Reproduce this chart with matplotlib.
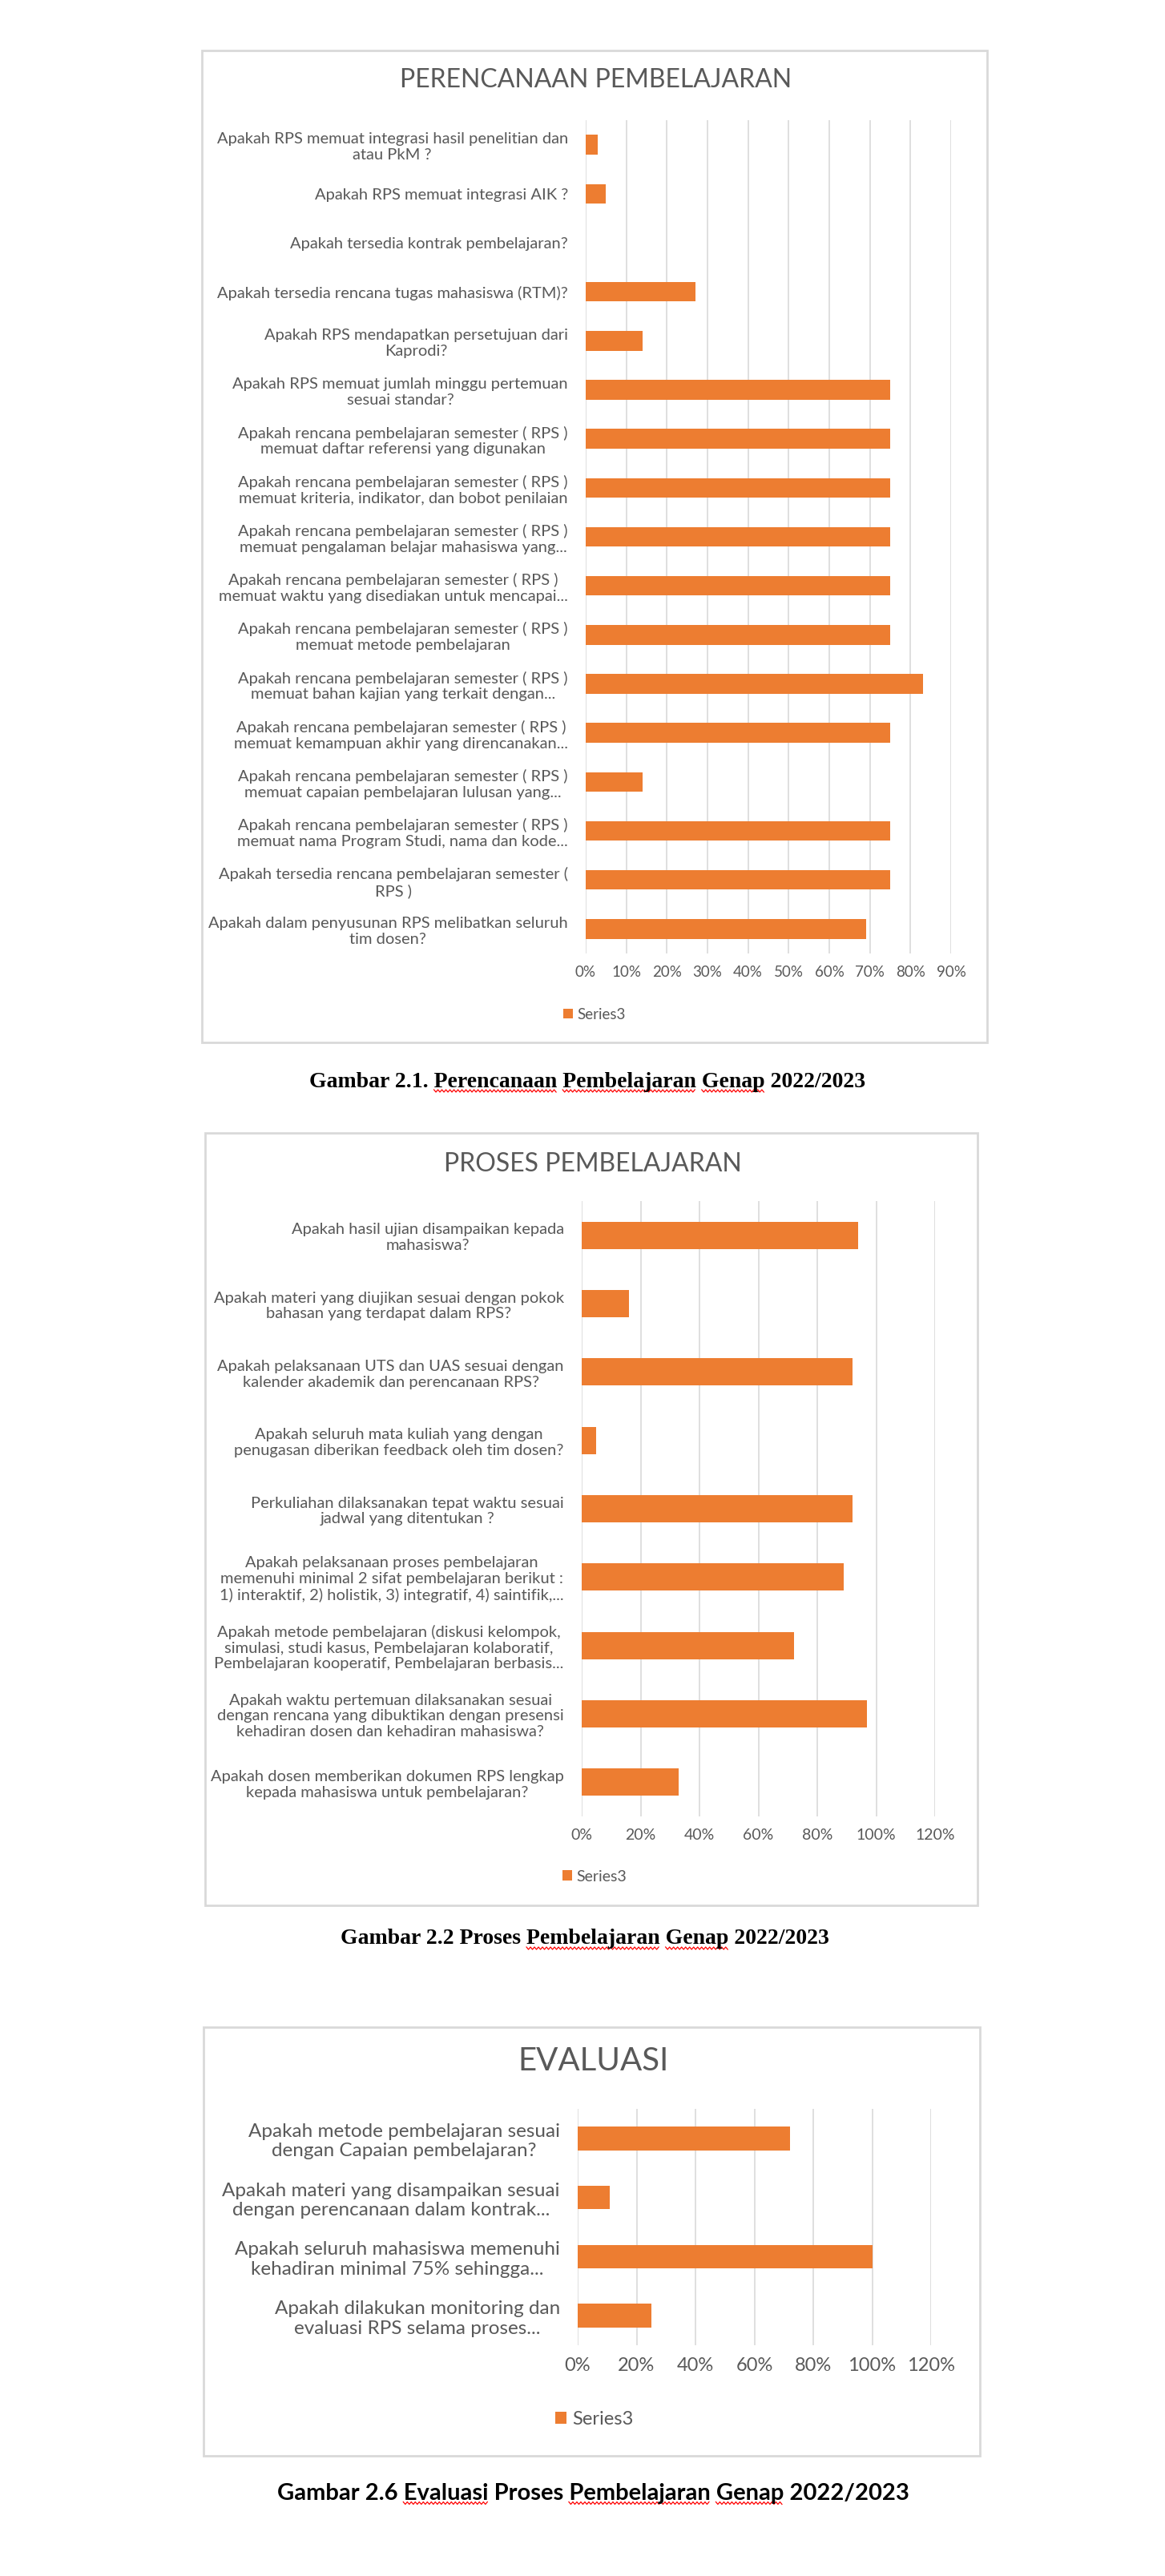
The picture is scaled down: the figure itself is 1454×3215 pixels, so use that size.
import numpy as np
import matplotlib
matplotlib.use('Agg')
import matplotlib.pyplot as plt
from matplotlib.patches import Rectangle
from matplotlib.lines import Line2D

W, H = 1454, 3215

# ---- data ----
label_rps = 'Apakah rencana pembelajaran semester ( RPS )\n'
perencanaan_labels = [
    'Apakah RPS memuat integrasi hasil penelitian dan\natau PkM ?',
    'Apakah RPS memuat integrasi AIK ?',
    'Apakah tersedia kontrak pembelajaran?',
    'Apakah tersedia rencana tugas mahasiswa (RTM)?',
    'Apakah RPS mendapatkan persetujuan dari\nKaprodi?',
    'Apakah RPS memuat jumlah minggu pertemuan\nsesuai standar?',
    label_rps + 'memuat daftar referensi yang digunakan',
    label_rps + 'memuat kriteria, indikator, dan bobot penilaian',
    label_rps + 'memuat pengalaman belajar mahasiswa yang...',
    label_rps + 'memuat waktu yang disediakan untuk mencapai...',
    label_rps + 'memuat metode pembelajaran',
    label_rps + 'memuat bahan kajian yang terkait dengan...',
    label_rps + 'memuat kemampuan akhir yang direncanakan...',
    label_rps + 'memuat capaian pembelajaran lulusan yang...',
    label_rps + 'memuat nama Program Studi, nama dan kode...',
    'Apakah tersedia rencana pembelajaran semester (\nRPS )',
    'Apakah dalam penyusunan RPS melibatkan seluruh\ntim dosen?',
]
perencanaan_values = [3, 5, 0, 27, 14, 75, 75, 75, 75, 75, 75, 83, 75, 14, 75, 75, 69]

proses_labels = [
    'Apakah hasil ujian disampaikan kepada\nmahasiswa?',
    'Apakah materi yang diujikan sesuai dengan pokok\nbahasan yang terdapat dalam RPS?',
    'Apakah pelaksanaan UTS dan UAS sesuai dengan\nkalender akademik dan perencanaan RPS?',
    'Apakah seluruh mata kuliah yang dengan\npenugasan diberikan feedback oleh tim dosen?',
    'Perkuliahan dilaksanakan tepat waktu sesuai\njadwal yang ditentukan ?',
    'Apakah pelaksanaan proses pembelajaran\nmemenuhi minimal 2 sifat pembelajaran berikut :\n'
    '1) interaktif, 2) holistik, 3) integratif, 4) saintifik,...',
    'Apakah metode pembelajaran (diskusi kelompok,\nsimulasi, studi kasus, Pembelajaran kolaboratif,\n'
    'Pembelajaran kooperatif, Pembelajaran berbasis...',
    'Apakah waktu pertemuan dilaksanakan sesuai\ndengan rencana yang dibuktikan dengan presensi\n'
    'kehadiran dosen dan kehadiran mahasiswa?',
    'Apakah dosen memberikan dokumen RPS lengkap\nkepada mahasiswa untuk pembelajaran?',
]
proses_values = [94, 16, 92, 5, 92, 89, 72, 97, 33]

evaluasi_labels = [
    'Apakah metode pembelajaran sesuai\ndengan Capaian pembelajaran?',
    'Apakah materi yang disampaikan sesuai\ndengan perencanaan dalam kontrak...',
    'Apakah seluruh mahasiswa memenuhi\nkehadiran minimal 75% sehingga...',
    'Apakah dilakukan monitoring dan\nevaluasi RPS selama proses...',
]
evaluasi_values = [72, 11, 100, 25]

series_name = 'Series3'
captions = [
    'Gambar 2.1. Perencanaan Pembelajaran Genap 2022/2023',
    'Gambar 2.2 Proses Pembelajaran Genap 2022/2023',
    'Gambar 2.6 Evaluasi Proses Pembelajaran Genap 2022/2023',
]
caption_typos = [
    ['Perencanaan', 'Pembelajaran', 'Genap'],
    ['Pembelajaran', 'Genap'],
    ['Evaluasi', 'Pembelajaran', 'Genap'],
]

orange = '#ED7D31'
grey_text = '#595959'
grid_col = '#D9D9D9'
sans = ['Lato', 'DejaVu Sans']

fig = plt.figure(figsize=(W / 100, H / 100), dpi=100)
fig.patch.set_facecolor('white')


def fx(x):
    return x / W


def fy(y):
    return 1 - y / H


def chart(box, title, title_y, title_size, plot_box, labels, values, xmax, step,
          label_size, tick_size, legend_y):
    bx0, by0, bx1, by1 = box
    fig.add_artist(Rectangle((fx(bx0), fy(by1)), fx(bx1 - bx0), (by1 - by0) / H,
                             transform=fig.transFigure, facecolor='white',
                             edgecolor=grid_col, lw=2, zorder=0))
    fig.text(fx((bx0 + bx1) / 2 + 2), fy(title_y), title, ha='center', va='center',
             fontsize=title_size, color=grey_text, family=sans)
    x0, y0, x1, y1 = plot_box
    ax = fig.add_axes([fx(x0), fy(y1), fx(x1 - x0), (y1 - y0) / H])
    ax.set_facecolor('none')
    pos = np.arange(len(labels))
    bars = ax.barh(pos, values, height=0.4, color=orange, label=series_name, zorder=3)
    ax.set_ylim(len(labels) - 0.5, -0.5)
    ax.set_xlim(0, xmax)
    ticks = np.arange(0, xmax + 0.1, step)
    ax.set_xticks(ticks)
    ax.set_xticklabels(['{:.0f}%'.format(t) for t in ticks], fontsize=tick_size,
                       color=grey_text, family=sans)
    ax.set_yticks(pos)
    ax.set_yticklabels(labels, fontsize=label_size, color=grey_text, family=sans)
    for lab in ax.get_yticklabels():
        lab.set_multialignment('center')
    ax.tick_params(axis='both', length=0)
    ax.tick_params(axis='x', pad=11)
    ax.tick_params(axis='y', pad=16)
    ax.grid(axis='x', color=grid_col, lw=1.2, zorder=0)
    for s in ax.spines.values():
        s.set_visible(False)
    ax.legend(handles=[bars], loc='center', bbox_to_anchor=(fx(742), fy(legend_y)),
              bbox_transform=fig.transFigure, frameon=False, handlelength=0.6,
              handleheight=0.6, handletextpad=0.3,
              prop={'family': sans, 'size': tick_size}, labelcolor=grey_text)
    return ax


chart((252, 63, 1232, 1301), 'PERENCANAAN PEMBELAJARAN', 100, 23,
      (731, 150, 1187, 1190), perencanaan_labels, perencanaan_values, 90, 10,
      14.5, 13.5, 1266)
chart((256, 1414, 1220, 2378), 'PROSES PEMBELAJARAN', 1453, 23,
      (726, 1499, 1167, 2267), proses_labels, proses_values, 120, 20,
      14.5, 14, 2342)
chart((254, 2530, 1223, 3065), 'EVALUASI', 2572, 29,
      (721, 2632, 1162, 2927), evaluasi_labels, evaluasi_values, 120, 20,
      17.5, 17, 3019)

cap_y = [1350, 2420, 3112]
cap_font = [dict(family='Liberation Serif', weight='bold', size=20),
            dict(family='Liberation Serif', weight='bold', size=20),
            dict(family=sans, weight='bold', size=21)]
cap_x = [733, 730, 740]
cap_texts = []
for i in range(3):
    t = fig.text(fx(cap_x[i]), fy(cap_y[i]), captions[i], ha='center', va='center',
                 color='black', **cap_font[i])
    cap_texts.append(t)

# red spell-check squiggles under the flagged caption words
fig.canvas.draw()
renderer = fig.canvas.get_renderer()


def text_width(s, props):
    tmp = fig.text(0, 0, s, **props)
    w = tmp.get_window_extent(renderer).width
    tmp.remove()
    return w


for i, t in enumerate(cap_texts):
    bb = t.get_window_extent(renderer)
    for word in caption_typos[i]:
        k = captions[i].index(word)
        end = bb.x0 + text_width(captions[i][:k] + word, cap_font[i])
        start = end - text_width(word, cap_font[i])
        xs = np.arange(start, end, 2.5)
        ys = bb.y0 + 1 + 1.5 * (-1) ** np.arange(len(xs))
        fig.add_artist(Line2D(xs / W, ys / H, transform=fig.transFigure,
                              color='red', lw=0.9))

fig.savefig('out.png', dpi=100)
